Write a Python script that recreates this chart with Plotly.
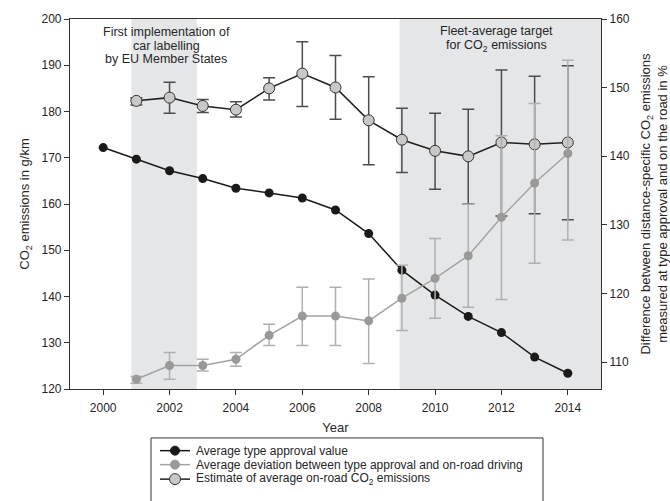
import plotly.graph_objects as go

years = list(range(2000, 2015))
years_dev = list(range(2001, 2015))

type_approval = [172.2, 169.7, 167.2, 165.5, 163.4, 162.4, 161.3, 158.7, 153.6, 145.7, 140.3, 135.7, 132.2, 126.9, 123.4]

deviation = [107.5, 109.5, 109.5, 110.4, 113.9, 116.7, 116.7, 116.0, 119.3, 122.2, 125.5, 131.1, 136.1, 140.4]
deviation_hi = [107.9, 111.4, 110.4, 111.4, 115.5, 120.9, 120.9, 122.1, 124.1, 128.0, 133.0, 143.0, 147.7, 154.0]
deviation_lo = [106.9, 107.5, 108.7, 109.4, 112.4, 112.4, 112.4, 109.8, 114.6, 116.4, 118.0, 119.1, 124.4, 127.8]

onroad = [182.3, 183.0, 181.2, 180.4, 185.0, 188.2, 185.2, 178.1, 173.9, 171.5, 170.3, 173.3, 172.9, 173.3]
onroad_hi = [182.9, 186.3, 182.6, 182.1, 187.3, 195.1, 192.1, 187.5, 180.7, 179.6, 180.5, 189.0, 187.6, 189.9]
onroad_lo = [181.4, 179.6, 179.8, 178.8, 182.5, 181.1, 178.3, 168.5, 166.8, 163.2, 160.0, 157.4, 157.9, 156.6]

periods = [(2000.85, 2002.82), (2008.93, 2015.0)]

legend_labels = ["Average type approval value",
                 "Average deviation between type approval and on-road driving",
                 "Estimate of average on-road CO<sub>2</sub> emissions"]

FONT = "Liberation Sans, Arial, Helvetica, sans-serif"
TXT = "#262626"

# plot area in pixels
L, R, T, B = 70, 601, 19, 389.3
def px(x):
    return (x - L) / (R - L)
def py(y):
    return (B - y) / (B - T)

fig = go.Figure()

for x0, x1 in periods:
    fig.add_shape(type="rect", xref="x", yref="paper", x0=x0, x1=x1, y0=0, y1=1,
                  fillcolor="#e5e6e8", line_width=0, layer="below")

# error bars of on-road estimate (drawn beneath the other series)
fig.add_trace(go.Scatter(
    x=years_dev, y=onroad, mode="markers", marker=dict(opacity=0, size=1),
    error_y=dict(type="data", symmetric=False,
                 array=[h - v for h, v in zip(onroad_hi, onroad)],
                 arrayminus=[v - l for l, v in zip(onroad_lo, onroad)],
                 color="#4d4d4d", thickness=1.5, width=6),
    showlegend=False, hoverinfo="skip"))

fig.add_trace(go.Scatter(
    x=years_dev, y=deviation, yaxis="y2", mode="lines+markers",
    name=legend_labels[1], showlegend=False,
    line=dict(color="#a3a3a3", width=1.5),
    marker=dict(color="#999999", size=9),
    error_y=dict(type="data", symmetric=False,
                 array=[h - v for h, v in zip(deviation_hi, deviation)],
                 arrayminus=[v - l for l, v in zip(deviation_lo, deviation)],
                 color="#b0b0b0", thickness=1.5, width=6)))

fig.add_trace(go.Scatter(
    x=years, y=type_approval, mode="lines+markers",
    name=legend_labels[0], showlegend=False,
    line=dict(color="#1a1a1a", width=1.5),
    marker=dict(color="#1a1a1a", size=9)))

fig.add_trace(go.Scatter(
    x=years_dev, y=onroad, mode="lines+markers",
    name=legend_labels[2], showlegend=False,
    line=dict(color="#1f1f1f", width=1.5),
    marker=dict(color="#c8c8c8", size=11, line=dict(color="#333333", width=1))))

# legend (compact, framed, cut off at the bottom like the original)
fig.add_shape(type="rect", xref="paper", yref="paper",
              x0=px(151), x1=px(543), y0=py(438.3), y1=py(540),
              line=dict(color="#333333", width=1), fillcolor="rgba(0,0,0,0)")
leg_styles = [
    dict(line="#1a1a1a", fill="#1a1a1a", edge="#1a1a1a", r=4.5),
    dict(line="#a3a3a3", fill="#999999", edge="#999999", r=4.5),
    dict(line="#1f1f1f", fill="#c8c8c8", edge="#333333", r=5.5),
]
leg_y = [451, 465, 479.5]
for lab, st, ly in zip(legend_labels, leg_styles, leg_y):
    yy = py(ly)
    fig.add_shape(type="line", xref="paper", yref="paper", x0=px(160), x1=px(190), y0=yy, y1=yy,
                  line=dict(color=st["line"], width=1.5))
    fig.add_shape(type="circle", xref="paper", yref="paper", xsizemode="pixel", ysizemode="pixel",
                  xanchor=px(175), yanchor=yy, x0=-st["r"], x1=st["r"], y0=-st["r"], y1=st["r"],
                  fillcolor=st["fill"], line=dict(color=st["edge"], width=1))
    fig.add_annotation(x=px(195), y=yy, xref="paper", yref="paper", xanchor="left", yanchor="middle",
                       text=lab, showarrow=False, borderpad=0,
                       font=dict(size=12, color=TXT, family=FONT))

# period annotations, one line each
for line_txt, dy in zip(["First implementation of", "car labelling", "by EU Member States"], [-13, -26.5, -40]):
    fig.add_annotation(x=2001.9, y=1, xref="x", yref="paper", yanchor="middle", yshift=dy, borderpad=0,
                       text=line_txt, showarrow=False, font=dict(size=12.5, color=TXT, family=FONT))
for line_txt, dy in zip(["Fleet-average target", "for CO<sub>2</sub> emissions"], [-12, -27]):
    fig.add_annotation(x=2011.85, y=1, xref="x", yref="paper", yanchor="middle", yshift=dy, borderpad=0,
                       text=line_txt, showarrow=False, font=dict(size=12.5, color=TXT, family=FONT))

axis_common = dict(showline=True, linecolor="#333333", linewidth=1.2,
                   ticks="outside", ticklen=5, tickcolor="#333333",
                   showgrid=False, zeroline=False,
                   tickfont=dict(size=12, color=TXT, family=FONT))

fig.update_layout(
    width=670, height=501,
    margin=dict(l=L, r=670 - R, t=T, b=501 - B, autoexpand=False),
    paper_bgcolor="white", plot_bgcolor="white",
    font=dict(family=FONT, color=TXT),
    showlegend=False,
    xaxis=dict(range=[1999, 2015], tickvals=list(range(2000, 2015, 2)), mirror=True,
               ticklabelstandoff=2,
               title=dict(text="Year", font=dict(size=13, color=TXT), standoff=9),
               **axis_common),
    yaxis=dict(range=[120, 200], dtick=10, mirror=True,
               title=dict(text="CO<sub>2</sub> emissions in g/km", font=dict(size=13, color=TXT), standoff=8),
               **axis_common),
    yaxis2=dict(range=[106.07, 160], tickvals=[110, 120, 130, 140, 150, 160], overlaying="y", side="right",
                title=dict(text="Difference between distance-specific CO<sub>2</sub> emissions<br>measured at type approval and on the road in %",
                           font=dict(size=13, color=TXT), standoff=16),
                **axis_common),
)

fig.write_html("out.html", config={"displayModeBar": False},
               post_script="document.body.style.margin='0';")
